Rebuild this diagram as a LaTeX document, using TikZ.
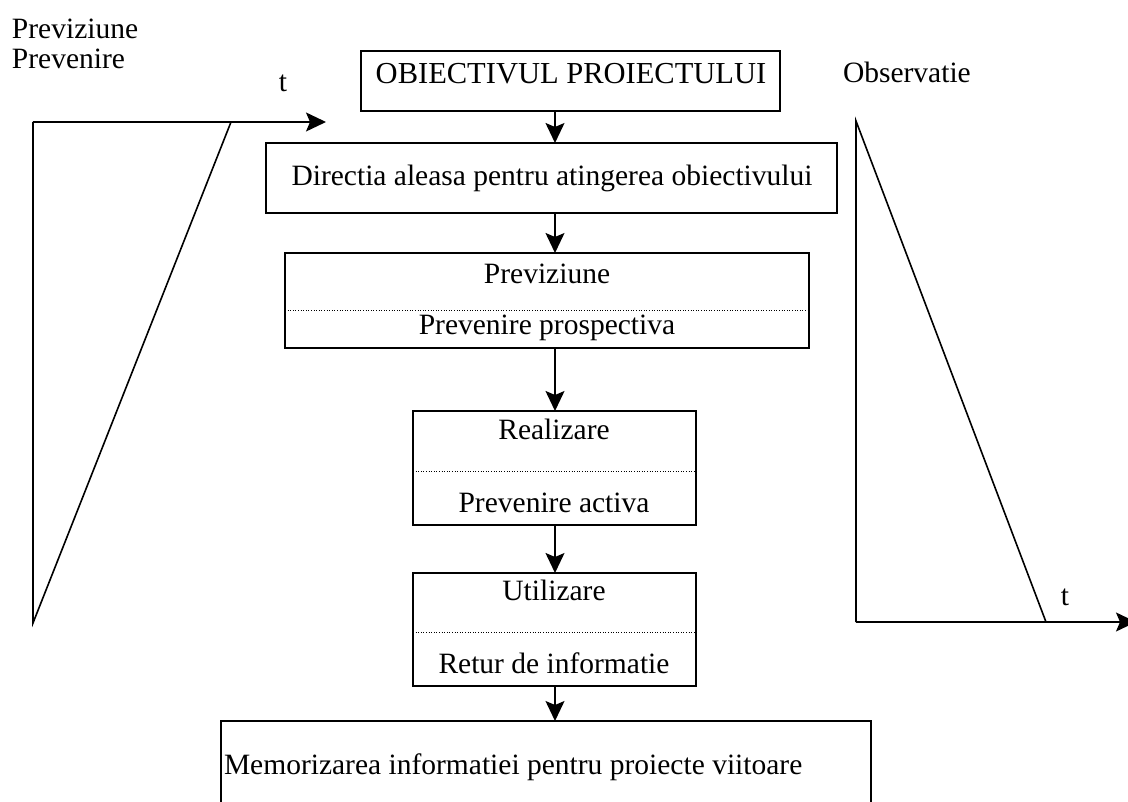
\documentclass[tikz,border=0pt]{standalone}
\usepackage{fontspec}
\setmainfont{Liberation Serif}
\usetikzlibrary{arrows.meta}
\begin{document}
\begin{tikzpicture}[x=1pt,y=-1pt,
  line width=1.6pt,
  every node/.style={font=\fontsize{29.5}{30}\selectfont, inner sep=0pt, outer sep=0pt},
  box/.style={draw, line width=1.6pt},
  sep/.style={dotted, line width=1pt, dash pattern=on 1pt off 1.6pt},
  arr/.style={-{Stealth[length=20pt,width=19pt,inset=4pt]}},
  lbl/.style={anchor=base},
  lblw/.style={anchor=base west}]
\clip (0,0) rectangle (1128,802);
\fill[white] (0,0) rectangle (1128,802);

% spine of the flow chart
\coordinate (spine) at (555,0);

% boxes
\node[box, minimum width=419, minimum height=60] (obj) at (570.5,81) {};
\node[box, minimum width=571, minimum height=70] (dir) at (551.5,178) {};
\node[box, minimum width=524, minimum height=95] (prev) at (547,300.5) {};
\node[box, minimum width=283, minimum height=114] (real) at (554.5,468) {};
\node[box, minimum width=283, minimum height=113] (util) at (554.5,629.5) {};
\coordinate (memTL) at (221,721);
\coordinate (memTR) at (871,721);
\coordinate (memBL) at (221,810);
\coordinate (memBR) at (871,810);
\draw (memBL) -- (memTL) -- (memTR) -- (memBR);

% dotted separators
\draw[sep] (prev.west |- 0,311) -- (prev.east |- 0,311);
\draw[sep] (real.west |- 0,471) -- (real.east |- 0,471);
\draw[sep] (util.west |- 0,632) -- (util.east |- 0,632);

% texts
\node[lbl, font=\fontsize{30.5}{31}\selectfont] (tobj) at (571,84) {OBIECTIVUL PROIECTULUI};
\node[lbl] (tdir) at (552,186) {Directia aleasa pentru atingerea obiectivului};
\node[lbl] (tprev1) at (547,284) {Previziune};
\node[lbl] (tprev2) at (547,335) {Prevenire prospectiva};
\node[lbl] (treal1) at (554,439) {Realizare};
\node[lbl] (treal2) at (554,512) {Prevenire activa};
\node[lbl] (tutil1) at (554,600) {Utilizare};
\node[lbl] (tutil2) at (554,673) {Retur de informatie};
\node[lblw] (tmem) at (224,774) {Memorizarea informatiei pentru proiecte viitoare};

% arrows along the chain
\draw[arr] (obj.south -| spine) -- (dir.north -| spine);
\draw[arr] (dir.south -| spine) -- (prev.north -| spine);
\draw[arr] (prev.south -| spine) -- (real.north -| spine);
\draw[arr] (real.south -| spine) -- (util.north -| spine);
\draw[arr] (util.south -| spine) -- (memTL -| spine);

% left diagram: prediction / prevention over time
\node[lblw] (lp1) at (12,39) {Previziune};
\node[lblw] (lp2) at (12,69) {Prevenire};
\node[lbl] (lt) at (283,92) {t};
\coordinate (lO) at (33,122);
\coordinate (lB) at (33,623);
\coordinate (lD) at (231,122);
\coordinate (lX) at (326,122);
\draw (lO) -- (lB) -- (lD);
\draw[arr] (lO) -- (lX);

% right diagram: observation over time
\node[lblw] (ro) at (843,83) {Observatie};
\node[lbl] (rt) at (1065,605) {t};
\coordinate (rT) at (856,121);
\coordinate (rO) at (856,622);
\coordinate (rD) at (1046,622);
\coordinate (rX) at (1136,622);
\draw (rO) -- (rT) -- (rD);
\draw[arr] (rO) -- (rX);
\end{tikzpicture}
\end{document}
